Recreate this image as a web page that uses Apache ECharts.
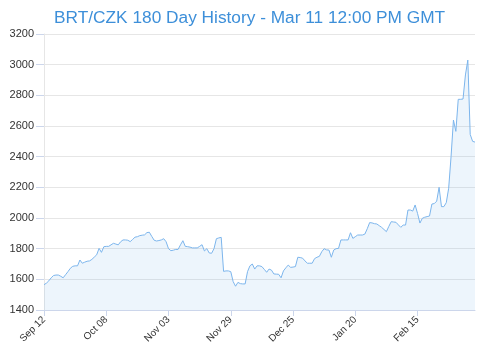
<!DOCTYPE html>
<html><head><meta charset="utf-8">
<script src="https://cdn.jsdelivr.net/npm/echarts@6/dist/echarts.min.js"></script>
<style>html,body{margin:0;padding:0;background:#fff}#c{width:485px;height:357px}</style>
</head><body><div id="c"></div>
<script>
const titleText = "BRT/CZK 180 Day History - Mar 11 12:00 PM GMT";
const startDate = [2023, 8, 12]; // Sep 12
const yTicks = [1400, 1600, 1800, 2000, 2200, 2400, 2600, 2800, 3000, 3200];
const values = [
1565,1575,1590,1610,1625,1628,1628,1620,1610,1630,
1650,1672,1685,1688,1688,1726,1705,1712,1718,1720,
1730,1745,1760,1802,1776,1813,1815,1815,1825,1835,
1830,1825,1845,1857,1857,1855,1846,1860,1875,1878,
1885,1888,1890,1905,1907,1880,1855,1850,1853,1857,
1865,1845,1800,1787,1790,1795,1795,1825,1852,1815,
1813,1810,1805,1805,1805,1815,1826,1785,1800,1772,
1770,1800,1865,1870,1874,1652,1655,1655,1650,1585,
1555,1580,1572,1570,1570,1650,1688,1700,1667,1688,
1688,1683,1665,1646,1667,1660,1635,1634,1633,1610,
1655,1675,1693,1678,1680,1683,1744,1742,1738,1720,
1705,1705,1705,1735,1744,1750,1780,1800,1792,1791,
1744,1791,1800,1802,1857,1857,1857,1857,1904,1867,
1878,1889,1889,1889,1895,1930,1970,1968,1963,1961,
1950,1939,1925,1911,1945,1976,1974,1972,1955,1939,
1954,1954,2052,2052,2045,2085,2030,1967,1998,2005,
2009,2013,2091,2094,2110,2200,2074,2074,2100,2194,
2400,2639,2565,2774,2774,2776,2933,3030,2545,2500,
2495
];
const monthNames = ["Jan","Feb","Mar","Apr","May","Jun","Jul","Aug","Sep","Oct","Nov","Dec"];
const dates = values.map((v, i) => {
  const d = new Date(startDate[0], startDate[1], startDate[2] + i);
  return monthNames[d.getMonth()] + " " + String(d.getDate()).padStart(2, "0");
});
const chart = echarts.init(document.getElementById('c'), null, {renderer: 'canvas'});
chart.setOption({
  animation: false,
  title: {
    text: titleText, left: 49, top: 5,
    textStyle: {color: '#3d8fd9', fontSize: 17.3, fontWeight: 'normal', fontFamily: 'Liberation Sans, Arial, sans-serif'}
  },
  grid: {left: 44, right: 10, top: 34, bottom: 47, containLabel: false},
  xAxis: {
    type: 'category', data: dates, boundaryGap: false,
    axisLine: {lineStyle: {color: '#ccd6eb'}},
    axisTick: {show: true, interval: 25, length: 6, lineStyle: {color: '#ccd6eb'}},
    axisLabel: {interval: 25, rotate: 45, color: '#333', fontSize: 10, fontFamily: 'Liberation Sans, Arial, sans-serif', margin: 8},
    splitLine: {show: false}
  },
  yAxis: {
    type: 'value', min: yTicks[0], max: yTicks[yTicks.length - 1], interval: 200,
    axisLine: {show: true, lineStyle: {color: '#e6e6e6'}},
    axisTick: {show: true, length: 8, lineStyle: {color: '#ccd6eb'}},
    axisLabel: {color: '#333', fontSize: 11, fontFamily: 'Liberation Sans, Arial, sans-serif', margin: 10, formatter: v => String(v)},
    splitLine: {lineStyle: {color: '#e6e6e6'}}
  },
  series: [{
    type: 'line', data: values, symbol: 'none', smooth: false,
    lineStyle: {color: '#7cb5ec', width: 1},
    areaStyle: {color: 'rgba(124,181,236,0.2)'}
  }]
});
</script></body></html>
